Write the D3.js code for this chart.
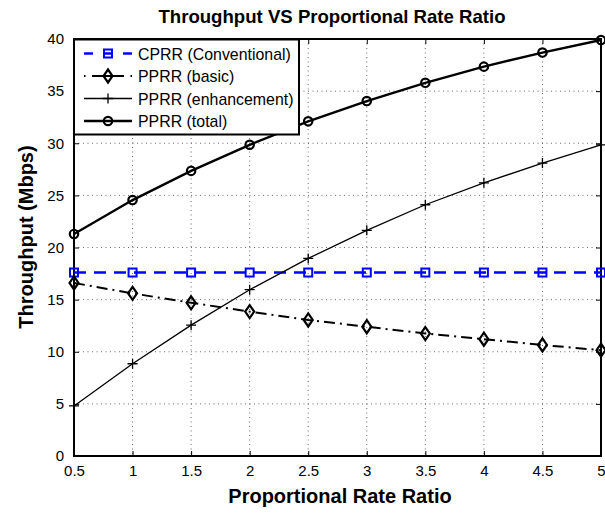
<!DOCTYPE html>
<html><head><meta charset="utf-8">
<script src="https://cdn.jsdelivr.net/npm/d3@7"></script>
<style>body{margin:0;background:#fff}svg{display:block;font-family:"Liberation Sans",Arial,sans-serif}</style>
</head><body><svg id="c" width="605" height="513"></svg>
<script>
const xValues = [0.5,1,1.5,2,2.5,3,3.5,4,4.5,5];
const cprr = [17.6,17.6,17.6,17.6,17.6,17.6,17.6,17.6,17.6,17.6];
const basic = [16.6,15.6,14.7,13.85,13.05,12.4,11.75,11.2,10.65,10.15];
const enhancement = [4.8,8.85,12.55,15.95,18.95,21.65,24.1,26.2,28.1,29.85];
const total = [21.3,24.55,27.35,29.85,32.1,34.05,35.8,37.35,38.7,39.9];
const xTicks = [0.5,1,1.5,2,2.5,3,3.5,4,4.5,5];
const yTicks = [0,5,10,15,20,25,30,35,40];
const seriesNames = ["CPRR (Conventional)","PPRR (basic)","PPRR (enhancement)","PPRR (total)"];

const svg = d3.select("#c");
const L=74,R=601,T=39,B=456;
const x = d3.scaleLinear().domain([0.5,5]).range([L,R]);
const y = d3.scaleLinear().domain([0,40]).range([B,T]);

// grid
const g = svg.append("g");
xTicks.slice(1,-1).forEach(t=>g.append("line").attr("x1",x(t)).attr("x2",x(t)).attr("y1",T).attr("y2",B)
  .attr("stroke","#444").attr("stroke-width",0.8).attr("stroke-dasharray","1,3.5"));
yTicks.slice(1,-1).forEach(t=>g.append("line").attr("x1",L).attr("x2",R).attr("y1",y(t)).attr("y2",y(t))
  .attr("stroke","#444").attr("stroke-width",0.8).attr("stroke-dasharray","1,3.5"));

// axes
const ax = d3.axisBottom(x).tickValues(xTicks).tickSize(-5).tickPadding(9).tickFormat(d=>String(d));
const ay = d3.axisLeft(y).tickValues(yTicks).tickSize(-5).tickPadding(10);
svg.append("g").attr("transform",`translate(0,${B})`).call(ax);
svg.append("g").attr("transform",`translate(${L},0)`).call(ay);
svg.append("g").attr("transform",`translate(0,${T})`).call(d3.axisTop(x).tickValues(xTicks).tickSize(-5).tickFormat(""));
svg.append("g").attr("transform",`translate(${R},0)`).call(d3.axisRight(y).tickValues(yTicks).tickSize(-5).tickFormat(""));
svg.selectAll(".domain").remove();
svg.selectAll(".tick line").attr("stroke","#000").attr("stroke-width",1);
svg.selectAll(".tick text").attr("font-size",15).attr("font-family","Liberation Sans, Arial, sans-serif").attr("fill","#000");
svg.append("rect").attr("x",L).attr("y",T).attr("width",R-L).attr("height",B-T).attr("fill","none").attr("stroke","#000").attr("stroke-width",2);

const line = d3.line().x((d,i)=>x(xValues[i])).y(d=>y(d));
const data = [cprr,basic,enhancement,total];
const styles = [
  {color:"#0000ff",w:2.6,dash:"12,8"},
  {color:"#000",w:2,dash:"11,5,2,5"},
  {color:"#000",w:1.3,dash:null},
  {color:"#000",w:2.4,dash:null}
];
function marker(sel,k,cx,cy){
  if(k===0){sel.append("rect").attr("x",cx-4).attr("y",cy-4).attr("width",8).attr("height",8)
    .attr("fill","none").attr("stroke","#0000ff").attr("stroke-width",2);}
  else if(k===1){sel.append("path").attr("d",`M${cx},${cy-6.5}L${cx+4.5},${cy}L${cx},${cy+6.5}L${cx-4.5},${cy}Z`)
    .attr("fill","none").attr("stroke","#000").attr("stroke-width",2.2);}
  else if(k===2){sel.append("path").attr("d",`M${cx-5},${cy}H${cx+5}M${cx},${cy-5}V${cy+5}`)
    .attr("stroke","#000").attr("stroke-width",1.3);}
  else {sel.append("circle").attr("cx",cx).attr("cy",cy).attr("r",4.2).attr("fill","none").attr("stroke","#000").attr("stroke-width",2.2);}
}
data.forEach((s,k)=>{
  const st=styles[k];
  const p=svg.append("path").attr("d",line(s)).attr("fill","none").attr("stroke",st.color).attr("stroke-width",st.w);
  if(st.dash)p.attr("stroke-dasharray",st.dash);
  const mg=svg.append("g");
  s.forEach((v,i)=>marker(mg,k,x(xValues[i]),y(v)));
});

// legend
const lg=svg.append("g");
lg.append("rect").attr("x",L).attr("y",T+0.5).attr("width",225).attr("height",95).attr("fill","#fff").attr("stroke","#000").attr("stroke-width",2);
const rowsY=[53.5,76,98.5,121];
seriesNames.forEach((n,k)=>{
  const st=styles[k];const yy=rowsY[k];
  const l=lg.append("line").attr("x1",84).attr("x2",132).attr("y1",yy).attr("y2",yy).attr("stroke",st.color).attr("stroke-width",st.w);
  if(k===0)l.attr("stroke-dasharray","9,10,10,10,9");
  if(k===1)l.attr("stroke-dasharray","1.5,6.5,32,6.5,1.5");
  marker(lg,k,108,yy);
  const t=lg.append("text").attr("x",138).attr("y",yy+6).attr("font-size",17).text(n);
  const w=t.node().getComputedTextLength();
  t.attr("textLength",w*0.935).attr("lengthAdjust","spacingAndGlyphs");
});

// titles
svg.append("text").attr("x",332).attr("y",22.5).attr("text-anchor","middle").attr("font-size",18.6).attr("font-weight","bold").text("Throughput VS Proportional Rate Ratio");
svg.append("text").attr("x",340).attr("y",503).attr("text-anchor","middle").attr("font-size",20).attr("font-weight","bold").text("Proportional Rate Ratio");
svg.append("text").attr("transform",`translate(33,237) rotate(-90)`).attr("text-anchor","middle").attr("font-size",20).attr("font-weight","bold").text("Throughput (Mbps)");
</script></body></html>
